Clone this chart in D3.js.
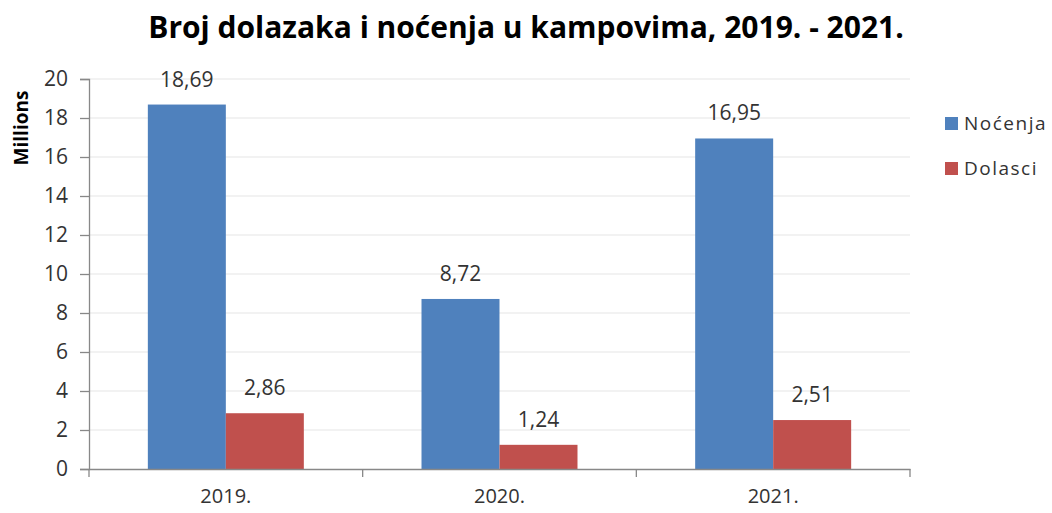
<!DOCTYPE html>
<html>
<head>
<meta charset="utf-8">
<script src="https://cdn.jsdelivr.net/npm/d3@7"></script>
<style>
  body { margin: 0; background: #fff; }
  text { font-family: "Open Sans", "DejaVu Sans", sans-serif; }
</style>
</head>
<body>
<svg id="chart" width="1052" height="513"></svg>
<script>
const years = ["2019.", "2020.", "2021."];
const seriesNames = ["Noćenja", "Dolasci"];
const nocenja = [18.69, 8.72, 16.95];
const dolasci = [2.86, 1.24, 2.51];
const yTicks = [0, 2, 4, 6, 8, 10, 12, 14, 16, 18, 20];
const colors = ["#4F81BD", "#C0504D"];

const margin = { top: 79, left: 89, right: 142, bottom: 44 };
const width = 1052, height = 513;

const svg = d3.select("#chart");
const g = svg.append("g").attr("transform", `translate(${margin.left}, ${margin.top})`);
const innerW = width - margin.left - margin.right;
const innerH = height - margin.top - margin.bottom;

let x = d3.scaleBand().domain(years).range([0, innerW]);
// Excel-like gap: bars fill the middle ~57% of each category
let xSub = d3.scaleBand().domain(seriesNames).range([x.bandwidth() * 0.215, x.bandwidth() * 0.785]);

let y = d3.scaleLinear().domain([0, 20]).range([innerH, 0]);

// gridlines
g.append("g").selectAll("line").data(yTicks.filter(d => d > 0)).join("line")
  .attr("x1", 0).attr("x2", innerW)
  .attr("y1", d => y(d)).attr("y2", d => y(d))
  .attr("stroke", "#e6e6e6").attr("stroke-width", 1.2);

// bars
const data = years.map((yr, i) => ({ year: yr, values: [nocenja[i], dolasci[i]] }));
const groups = g.append("g").selectAll("g").data(data).join("g")
  .attr("transform", d => `translate(${x(d.year)}, 0)`);

groups.selectAll("rect").data(d => d.values.map((v, j) => ({ name: seriesNames[j], v, j })))
  .join("rect")
  .attr("x", d => xSub(d.name))
  .attr("width", xSub.bandwidth())
  .attr("y", d => y(d.v))
  .attr("height", d => innerH - y(d.v))
  .attr("fill", d => colors[d.j]);

groups.selectAll("text").data(d => d.values.map((v, j) => ({ name: seriesNames[j], v, j })))
  .join("text")
  .attr("x", d => xSub(d.name) + xSub.bandwidth() / 2)
  .attr("y", d => y(d.v) - 18)
  .attr("text-anchor", "middle")
  .attr("font-size", "21px")
  .attr("fill", "#333")
  .text(d => d3.format(".2f")(d.v).replace(".", ","));

// y axis
const yAxis = g.append("g")
  .call(d3.axisLeft(y).tickValues(yTicks).tickSize(9).tickPadding(12));
yAxis.select(".domain").attr("stroke", "#888").attr("stroke-width", 1.3);
yAxis.selectAll(".tick line").attr("stroke", "#888").attr("stroke-width", 1.3);
yAxis.selectAll("text").attr("font-size", "21px").attr("fill", "#333")
  .style("font-family", "'Open Sans', sans-serif");

// x axis
const xAxis = g.append("g").attr("transform", `translate(0, ${innerH})`)
  .call(d3.axisBottom(x).tickSize(0).tickPadding(20));
xAxis.select(".domain").attr("stroke", "#888").attr("stroke-width", 1.3);
xAxis.selectAll("text").attr("font-size", "20px").attr("fill", "#333")
  .style("font-family", "'Open Sans', sans-serif");
// category separator ticks
g.append("g").selectAll("line").data(years.concat(["end"])).join("line")
  .attr("x1", (d, i) => i === years.length ? innerW : x(d))
  .attr("x2", (d, i) => i === years.length ? innerW : x(d))
  .attr("y1", innerH).attr("y2", innerH + 8)
  .attr("stroke", "#888").attr("stroke-width", 1.3);

// y title
svg.append("text")
  .attr("transform", `translate(28, 128) rotate(-90)`)
  .attr("text-anchor", "middle")
  .attr("font-size", "19px")
  .attr("font-weight", "bold")
  .attr("fill", "#000")
  .text("Millions");

// title
svg.append("text")
  .attr("x", 526).attr("y", 38)
  .attr("text-anchor", "middle")
  .attr("font-size", "30px")
  .attr("font-weight", "bold")
  .attr("fill", "#000")
  .text("Broj dolazaka i noćenja u kampovima, 2019. - 2021.");

// legend
const legend = svg.append("g").attr("transform", "translate(945, 117)");
const li = legend.selectAll("g").data(seriesNames).join("g")
  .attr("transform", (d, i) => `translate(0, ${i * 45})`);
li.append("rect").attr("width", 13).attr("height", 13).attr("fill", (d, i) => colors[i]);
li.append("text").attr("x", 19).attr("y", 13).attr("font-size", "19px").attr("fill", "#333")
  .style("letter-spacing", "1.5px").text(d => d);
</script>
</body>
</html>
